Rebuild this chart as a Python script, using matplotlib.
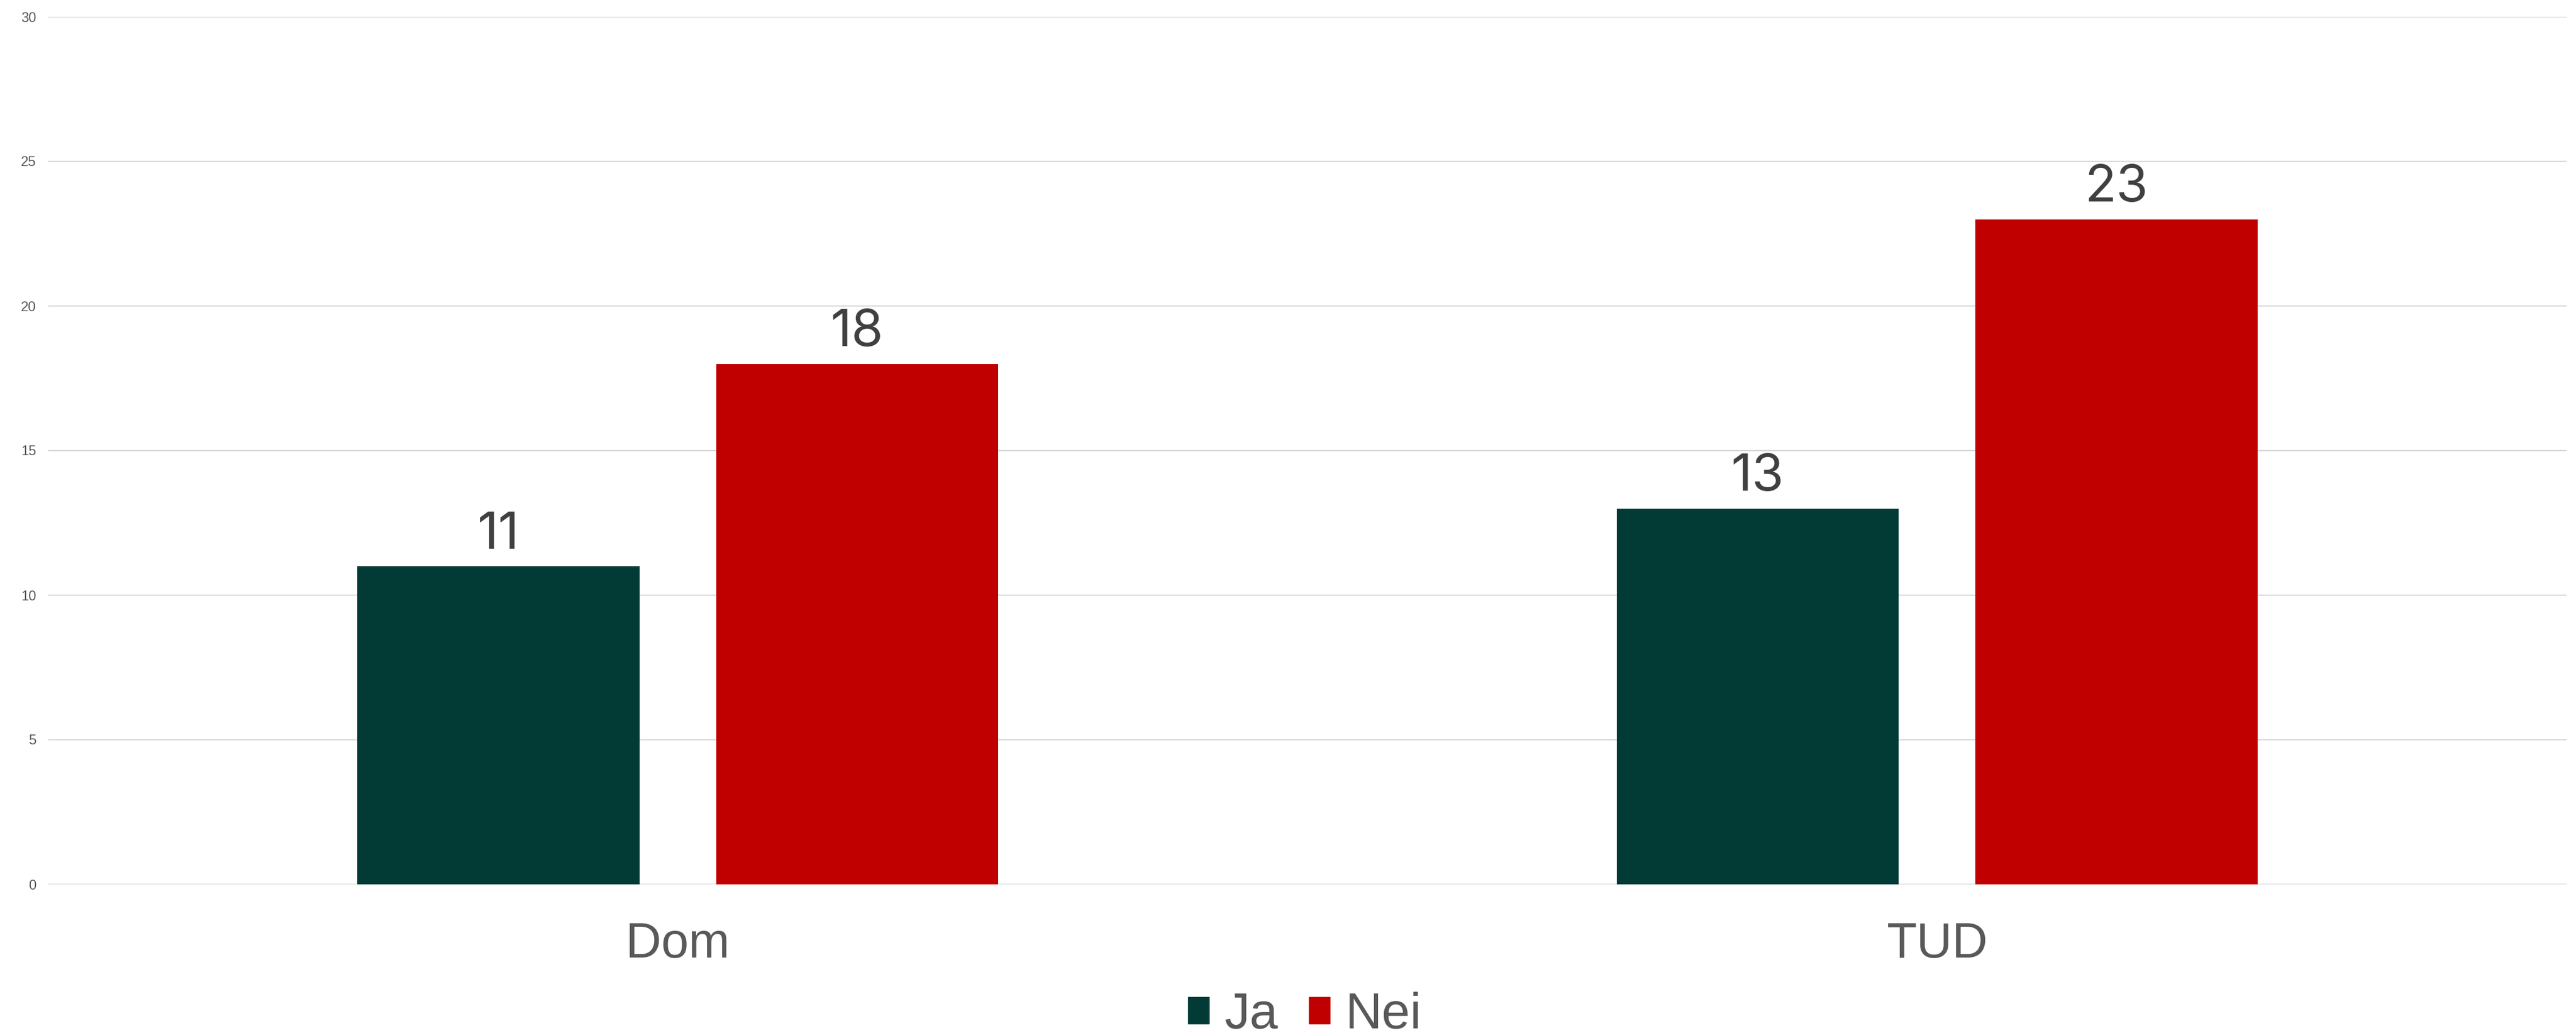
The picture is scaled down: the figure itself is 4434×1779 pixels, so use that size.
import matplotlib
matplotlib.use("Agg")
import matplotlib.pyplot as plt
from matplotlib.patches import Patch
import numpy as np

categories = ["Dom", "TUD"]
series_names = ["Ja", "Nei"]
ja_values = [11, 13]
nei_values = [18, 23]
y_ticks = [0, 5, 10, 15, 20, 25, 30]

colors = {"Ja": "#023b36", "Nei": "#c00000"}

plt.rcParams['font.family'] = ['Liberation Sans', 'DejaVu Sans']

W, H = 4434, 1779
fig = plt.figure(figsize=(W / 100, H / 100), dpi=100)
ax = fig.add_axes([83 / W, 1 - 1523 / H, (4418 - 83) / W, (1523 - 29) / H])

x = np.arange(len(categories))
width = 0.224
offset = 0.1425
b1 = ax.bar(x - offset, ja_values, width, color=colors["Ja"], zorder=3)
b2 = ax.bar(x + offset, nei_values, width, color=colors["Nei"], zorder=3)

for b in (b1, b2):
    ax.bar_label(b, fontsize=64, color="#404040", padding=9,
                 family=["Inter", "Liberation Sans", "DejaVu Sans"])

ax.set_xlim(-0.5, len(categories) - 0.5)
ax.set_ylim(0, 30)
ax.set_yticks(y_ticks)
ax.set_yticklabels([str(t) for t in y_ticks])
ax.set_xticks(x)
ax.set_xticklabels(categories)
ax.tick_params(axis="y", length=0, pad=15, labelsize=17, labelcolor="#595959")
ax.tick_params(axis="x", length=0, pad=46, labelsize=61, labelcolor="#595959")
ax.yaxis.grid(True, color="#d9d9d9", linewidth=1.6, zorder=0)
ax.set_axisbelow(True)
for s in ax.spines.values():
    s.set_visible(False)

handles = [Patch(color=colors[n]) for n in series_names]
fig.legend(handles, series_names, loc="center", bbox_to_anchor=(0.5065, 0.017),
           ncol=2, frameon=False, fontsize=63, labelcolor="#595959",
           handlelength=0.42, handleheight=0.42, handletextpad=0.3,
           columnspacing=0.6, borderpad=0.1)

fig.savefig("out.png", dpi=100, facecolor="white")
